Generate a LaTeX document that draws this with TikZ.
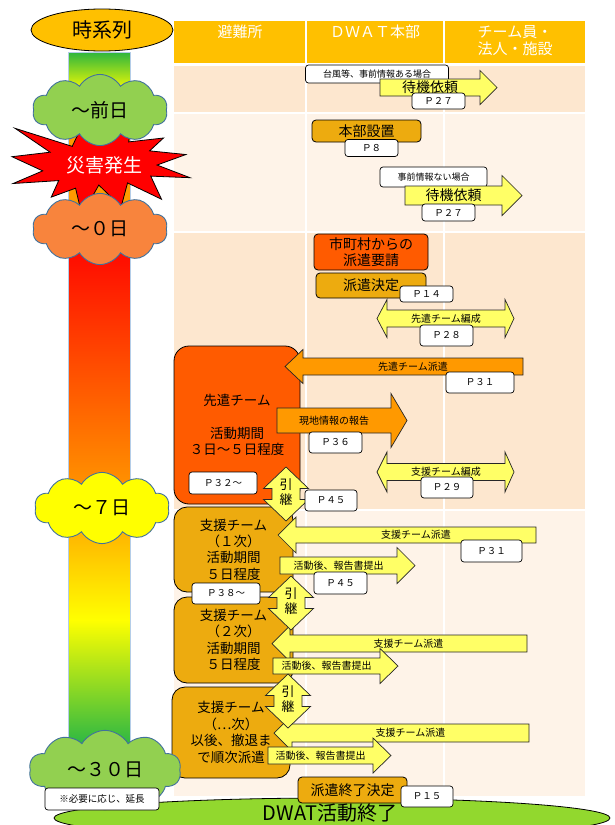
\documentclass[tikz,border=0pt]{standalone}
\usepackage{fontspec}
\setmainfont{Noto Sans CJK JP}
\usetikzlibrary{shapes.geometric,shapes.symbols,positioning}

\definecolor{hdrgold}{HTML}{FFC000}
\definecolor{rowdark}{HTML}{FDE7CF}
\definecolor{rowlight}{HTML}{FEF3E8}
\definecolor{teamred}{HTML}{FF5B00}
\definecolor{teamgold}{HTML}{EDAB0F}
\definecolor{arrorange}{HTML}{FF9900}
\definecolor{arryellow}{HTML}{FFFF66}
\definecolor{cloudline}{HTML}{41719C}
\definecolor{daygreen}{HTML}{92D050}
\definecolor{dayorange}{HTML}{F8843D}
\definecolor{dayyellow}{HTML}{FFFF00}
\definecolor{endgreen}{HTML}{92D82E}
\definecolor{barblue}{HTML}{B4CDE8}
\definecolor{bartop}{HTML}{2DB53D}
\definecolor{barbottom}{HTML}{12AF4B}
\definecolor{barorange}{HTML}{FF9A00}

% block arrow: name, fill, tail x, head base x, tip x, y, body half, head half, text
\newcommand{\blockarrow}[9]{%
  \draw[arrline,fill=#2] (#3,#6-#7) -- (#4,#6-#7) -- (#4,#6-#8) -- (#5,#6)
    -- (#4,#6+#8) -- (#4,#6+#7) -- (#3,#6+#7) -- cycle;
  \node[arrtext] (#1) at ({(#3+#4)/2},#6) {#9};}
% two-way arrow: name, left tip, left base, right base, right tip, y, body half, head half, text
\newcommand{\twowayarrow}[9]{%
  \draw[arrline,fill=arryellow] (#2,#6) -- (#3,#6-#8) -- (#3,#6-#7) -- (#4,#6-#7)
    -- (#4,#6-#8) -- (#5,#6) -- (#4,#6+#8) -- (#4,#6+#7) -- (#3,#6+#7) -- (#3,#6+#8) -- cycle;
  \node[arrtext] (#1) at ({(#3+#4)/2},#6) {#9};}
% up-down arrow between teams: name, x, y
\newcommand{\handover}[3]{%
  \draw[arrline,fill=arryellow] (#2,#3-27) -- (#2+22.5,#3-5.5) -- (#2+14,#3-5.5)
    -- (#2+14,#3+5.5) -- (#2+22.5,#3+5.5) -- (#2,#3+27) -- (#2-22.5,#3+5.5)
    -- (#2-14,#3+5.5) -- (#2-14,#3-5.5) -- (#2-22.5,#3-5.5) -- cycle;
  \node[handtext] (#1) at (#2,#3-1.5) {引\\継};}

\begin{document}
\begin{tikzpicture}[x=1pt,y=-1pt]
  \tikzset{
    hdrtext/.style={anchor=north,inner sep=0pt,text=white,align=center,font=\fontsize{15}{17}\selectfont},
    arrline/.style={draw=black!85,line width=0.7pt},
    arrtext/.style={inner sep=0pt,font=\fontsize{10}{11}\selectfont},
    handtext/.style={inner sep=0pt,align=center,font=\fontsize{13}{15}\selectfont},
    pbox/.style={draw,fill=white,rounded corners=3pt,line width=0.7pt,inner sep=0pt,minimum width=53pt,minimum height=21pt,font=\fontsize{9.5}{10}\selectfont},
    note/.style={draw,fill=white,rounded corners=3pt,line width=0.7pt,inner sep=0pt,font=\fontsize{9}{10}\selectfont},
    hqbox/.style={draw,fill=teamgold,rounded corners=4pt,line width=0.8pt,inner sep=0pt,align=center,font=\fontsize{14}{16.5}\selectfont},
    team/.style={draw,rounded corners=13pt,line width=0.8pt,inner sep=0pt,align=center,font=\fontsize{13.5}{16.4}\selectfont},
    daycloud/.style={cloud,cloud puffs=10,cloud puff arc=120,aspect=1.35,draw=cloudline,line width=0.9pt,inner sep=0pt,font=\fontsize{19}{20}\selectfont}
  }
  \path[use as bounding box,fill=white] (0,0) rectangle (615,825);

  % table
  \fill[hdrgold] (174,21) rectangle (585,63);
  \fill[rowdark] (174,66) rectangle (585,112);
  \fill[rowlight] (174,114) rectangle (585,231);
  \fill[rowdark] (174,233) rectangle (585,509);
  \fill[rowlight] (174,511) rectangle (585,796);
  \draw[white,line width=1.5pt] (306,21) -- (306,796) (444,21) -- (444,796);
  \node[hdrtext] (hshelter) at (240,25) {避難所};
  \node[hdrtext] (hhq) at (375,25) {ＤＷＡＴ本部};
  \node[hdrtext] (hteam) at (515,25) {チーム員・\\法人・施設};

  % time bar
  \shade[top color=bartop,bottom color=yellow] (68,52) rectangle (130,92);
  \fill[barorange] (68,92) rectangle (130,233);
  \shade[top color=red,bottom color=barorange] (68,233) rectangle (130,500);
  \shade[top color=barorange,bottom color=yellow] (68,500) rectangle (130,620);
  \shade[top color=yellow,bottom color=barbottom] (68,620) rectangle (130,760);
  \draw[barblue,line width=0.8pt] (68,52) rectangle (130,760);
  \node[ellipse,draw,fill=hdrgold,line width=0.8pt,minimum width=142pt,minimum height=42pt,inner sep=0pt,font=\fontsize{20}{22}\selectfont] (timeaxis) at (102,30) {時系列};

  % disaster
  \begin{scope}[shift={(12,118)},x=1.78pt,y=-0.97pt]
    \draw[fill=red,line width=0.8pt] (50,26.85) -- (67.23,0) -- (65.53,24.65) -- (85.09,20.63)
      -- (77.32,33.87) -- (97.67,37.67) -- (81.51,48.50) -- (100,61.53) -- (77.95,59.92)
      -- (84.00,83.77) -- (64.91,66.93) -- (61.33,91.38) -- (48.76,69.14) -- (39.28,100)
      -- (35.72,72.35) -- (22.05,81.56) -- (26.24,64.52) -- (0.63,67.53) -- (17.23,54.51)
      -- (0,39.88) -- (21.42,35.26) -- (1.71,10.63) -- (33.85,29.26) -- (38.67,10.63) -- cycle;
  \end{scope}
  \node[text=white,font=\fontsize{19}{20}\selectfont] (disaster) at (104,165) {災害発生};

  % before the day
  \node[note,minimum width=143pt,minimum height=18pt] (withinfo) at (377,74) {台風等、事前情報ある場合};
  \blockarrow{standbya}{arryellow}{380}{480}{497}{87.5}{8.5}{17}{\fontsize{14}{15}\selectfont 待機依頼}
  \node[pbox,minimum height=16pt] (p27a) at (438.5,101) {Ｐ２７};

  % up to day 0
  \node[hqbox,minimum width=109pt,minimum height=22pt] (hqsetup) at (366.5,131) {本部設置};
  \node[pbox,minimum height=17pt] (p8) at (371.5,148) {Ｐ８};
  \node[note,minimum width=107pt,minimum height=20pt] (noinfo) at (433.5,177) {事前情報ない場合};
  \blockarrow{standbyb}{arryellow}{405}{502}{522}{195.5}{9.5}{20}{\fontsize{14}{15}\selectfont 待機依頼}
  \node[pbox,minimum height=17pt] (p27b) at (448.5,212.5) {Ｐ２７};

  % day 0 to day 7
  \node[hqbox,fill=teamred,minimum width=114pt,minimum height=36pt] (request) at (371,252) {市町村からの\\派遣要請};
  \node[hqbox,minimum width=110pt,minimum height=25pt] (decide) at (371,285.5) {派遣決定};
  \node[pbox,minimum height=16pt] (p14) at (426.5,294) {Ｐ１４};
  \twowayarrow{advform}{377}{387}{505}{514}{318.5}{8.5}{19}{先遣チーム編成}
  \node[pbox] (p28) at (446.5,335.5) {Ｐ２８};
  \node[team,fill=teamred,rounded corners=15pt,minimum width=126pt,minimum height=158pt] (advteam) at (237,425) {先遣チーム\\[16pt]活動期間\\３日〜５日程度};
  \blockarrow{advsend}{arrorange}{523}{303}{285}{366.5}{8.5}{17}{先遣チーム派遣}
  \node[pbox,minimum width=68pt] (p31a) at (480,382.5) {Ｐ３１};
  \blockarrow{report}{arrorange}{277}{391}{407}{420.5}{12.5}{27}{現地情報の報告}
  \node[pbox] (p36) at (335.5,442.5) {Ｐ３６};
  \twowayarrow{supform}{377}{387}{505}{514}{472}{8.5}{20}{支援チーム編成}
  \node[pbox,minimum width=52pt] (p29) at (447,487.5) {Ｐ２９};
  \node[pbox,minimum width=68pt,minimum height=22pt] (p32) at (223,483) {Ｐ３２〜};

  % day 7 to day 30
  \node[team,fill=teamgold,minimum width=119pt,minimum height=85pt] (supa) at (233.5,549.5) {支援チーム\\（１次）\\活動期間\\５日程度};
  \node[team,fill=teamgold,minimum width=119pt,minimum height=86pt] (supb) at (233.5,640) {支援チーム\\（２次）\\活動期間\\５日程度};
  \node[team,fill=teamgold,minimum width=118pt,minimum height=91pt] (supc) at (231,732.5) {支援チーム\\（…次）\\以後、撤退ま\\で順次派遣};
  \blockarrow{supsenda}{arryellow}{536}{296}{278}{535}{8}{18}{支援チーム派遣}
  \node[pbox,minimum width=61pt,minimum height=22pt] (p31b) at (491.5,551) {Ｐ３１};
  \blockarrow{reporta}{arryellow}{280}{397}{415}{565.5}{8.5}{18}{活動後、報告書提出}
  \node[pbox,minimum height=22pt] (p45b) at (340.5,583) {Ｐ４５};
  \blockarrow{supsendb}{arryellow}{527}{290}{272}{643.5}{8.5}{18}{支援チーム派遣}
  \blockarrow{reportb}{arryellow}{273}{380}{398}{666}{8}{17.5}{活動後、報告書提出}
  \blockarrow{supsendc}{arryellow}{529}{292}{274}{733}{9}{18}{支援チーム派遣}
  \blockarrow{reportc}{arryellow}{268}{373}{391}{755.5}{8.5}{17.5}{活動後、報告書提出}
  \handover{handa}{286}{494}
  \node[pbox,minimum width=52pt] (p45a) at (331,500.5) {Ｐ４５};
  \handover{handb}{291}{603}
  \handover{handc}{288}{701}
  \node[pbox,minimum width=68pt] (p38) at (226,593.5) {Ｐ３８〜};

  % end
  \node[ellipse,draw,fill=endgreen,line width=0.8pt,minimum width=556pt,minimum height=40pt,inner sep=0pt] (dwatend) at (332,818) {};
  \node[font=\fontsize{20}{22}\selectfont,inner sep=0pt] (dwatendtext) at (330,813) {DWAT活動終了};
  \node[hqbox,minimum width=109pt,minimum height=26pt] (finish) at (352.5,790) {派遣終了決定};
  \node[pbox,minimum width=52pt] (p15) at (427,796.5) {Ｐ１５};

  % time marks
  \node[daycloud,fill=daygreen,minimum width=135pt,minimum height=48pt] (dayprev) at (100,110) {〜前日};
  \node[daycloud,fill=dayorange,minimum width=135pt,minimum height=48pt] (dayzero) at (100,229) {〜０日};
  \node[daycloud,fill=dayyellow,minimum width=135pt,minimum height=48pt] (dayseven) at (102,508) {〜７日};
  \node[daycloud,fill=daygreen,aspect=1.7,minimum width=152pt,minimum height=44pt] (daythirty) at (105,770) {〜３０日};
  \node[note,minimum width=114pt,minimum height=22pt,font=\fontsize{9.5}{10}\selectfont] (extnote) at (102,799) {※必要に応じ、延長};
\end{tikzpicture}
\end{document}
